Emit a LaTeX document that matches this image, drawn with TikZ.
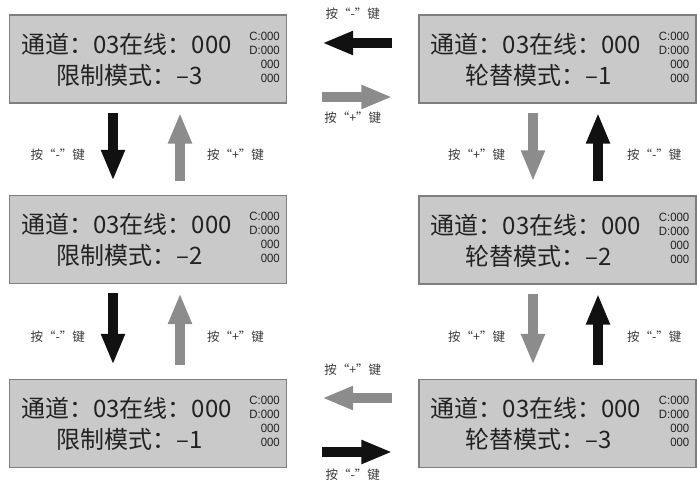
\documentclass[tikz,border=0pt]{standalone}
\usepackage{fontspec}
\usepackage{tikz}
\usetikzlibrary{
  arrows.meta,
  positioning,
  calc
}
\newfontfamily\lcdfont{Noto Sans CJK SC}
\newfontfamily\sidefont[FakeStretch=0.95]{Liberation Sans}
\definecolor{lcdFill}{HTML}{C9C9C9}
\definecolor{lcdEdge}{HTML}{7E7E7E}
\definecolor{lcdText}{HTML}{222222}
\definecolor{keyDark}{HTML}{111111}
\definecolor{keyGray}{HTML}{8C8C8C}
\definecolor{keyText}{HTML}{3A3A3A}
\tikzset{
  lcd/.style={
    draw=lcdEdge, fill=lcdFill, line width=1.3pt,
    minimum width=277pt, minimum height=88pt, inner sep=0pt
  },
  lcdline/.style={anchor=west, inner sep=0pt, text=lcdText, font=\lcdfont\fontsize{24}{28}\selectfont},
  lcdside/.style={anchor=east, inner sep=0pt, align=right, text=lcdText, font=\sidefont\fontsize{12}{14}\selectfont},
  keypress/.style={-{Triangle[length=31pt, width=22pt]}, line width=10pt},
  minuskey/.style={keypress, keyDark},
  pluskey/.style={keypress, keyGray},
  downpress/.style={shorten <=9pt, shorten >=14pt},
  uppress/.style={shorten <=14pt, shorten >=9pt},
  keylabel/.style={inner sep=0pt, text=keyText, font=\lcdfont\fontsize{12.5}{14}\selectfont},
  vlabel/.style={keylabel, yshift=-5pt}
}
% one LCD panel: name, centre, mode line
\newcommand\lcdpanel[3]{%
  \node[lcd] (#1) at (#2) {};
  \node[lcdline] (#1-top) at ([xshift=-127pt, yshift=15pt]#1.center) {通道：03在线：000};
  \node[lcdline] (#1-mode) at ([xshift=-92pt, yshift=-16pt]#1.center) {#3};
  \node[lcdside] (#1-side) at ([xshift=132pt, yshift=2pt]#1.center) {C:000\\D:000\\000\\000};
}

\begin{document}
\begin{tikzpicture}[x=1pt, y=-1pt]
  \useasboundingbox (0,0) rectangle (697,482);
  \lcdpanel{lim3}{148,59}{限制模式：–3}
  \lcdpanel{lim2}{148,239.5}{限制模式：–2}
  \lcdpanel{lim1}{148,423.5}{限制模式：–1}
  \lcdpanel{alt1}{557.5,59}{轮替模式：–1}
  \lcdpanel{alt2}{557.5,240}{轮替模式：–2}
  \lcdpanel{alt3}{557.5,423.5}{轮替模式：–3}

  \foreach \up/\dn in {lim3/lim2, lim2/lim1}{
    \draw[minuskey, downpress] ([xshift=-35pt]\up.south) -- node[vlabel, left=23pt]{按“-”键} ([xshift=-35pt]\dn.north);
    \draw[pluskey, uppress] ([xshift=32pt]\dn.north) -- node[vlabel, right=22pt]{按“+”键} ([xshift=32pt]\up.south);
  }
  \foreach \up/\dn in {alt1/alt2, alt2/alt3}{
    \draw[pluskey, downpress] ([xshift=-24.5pt]\up.south) -- node[vlabel, left=23pt]{按“+”键} ([xshift=-24.5pt]\dn.north);
    \draw[minuskey, uppress] ([xshift=40.5pt]\dn.north) -- node[vlabel, right=24pt]{按“-”键} ([xshift=40.5pt]\up.south);
  }

  \draw[minuskey, shorten <=26pt, shorten >=35pt] ([yshift=16pt]alt1.west) -- node[keylabel, above=18pt]{按“-”键} ([yshift=16pt]lim3.east);
  \draw[pluskey, shorten <=35pt, shorten >=26pt] ([yshift=-38pt]lim3.east) -- node[keylabel, below=10pt]{按“+”键} ([yshift=-38pt]alt1.west);
  \draw[pluskey, shorten <=26pt, shorten >=35pt] ([yshift=25.5pt]alt3.west) -- node[keylabel, above=17pt]{按“+”键} ([yshift=25.5pt]lim1.east);
  \draw[minuskey, shorten <=35pt, shorten >=26pt] ([yshift=-28.5pt]lim1.east) -- node[keylabel, below=12pt]{按“-”键} ([yshift=-28.5pt]alt3.west);
\end{tikzpicture}
\end{document}
